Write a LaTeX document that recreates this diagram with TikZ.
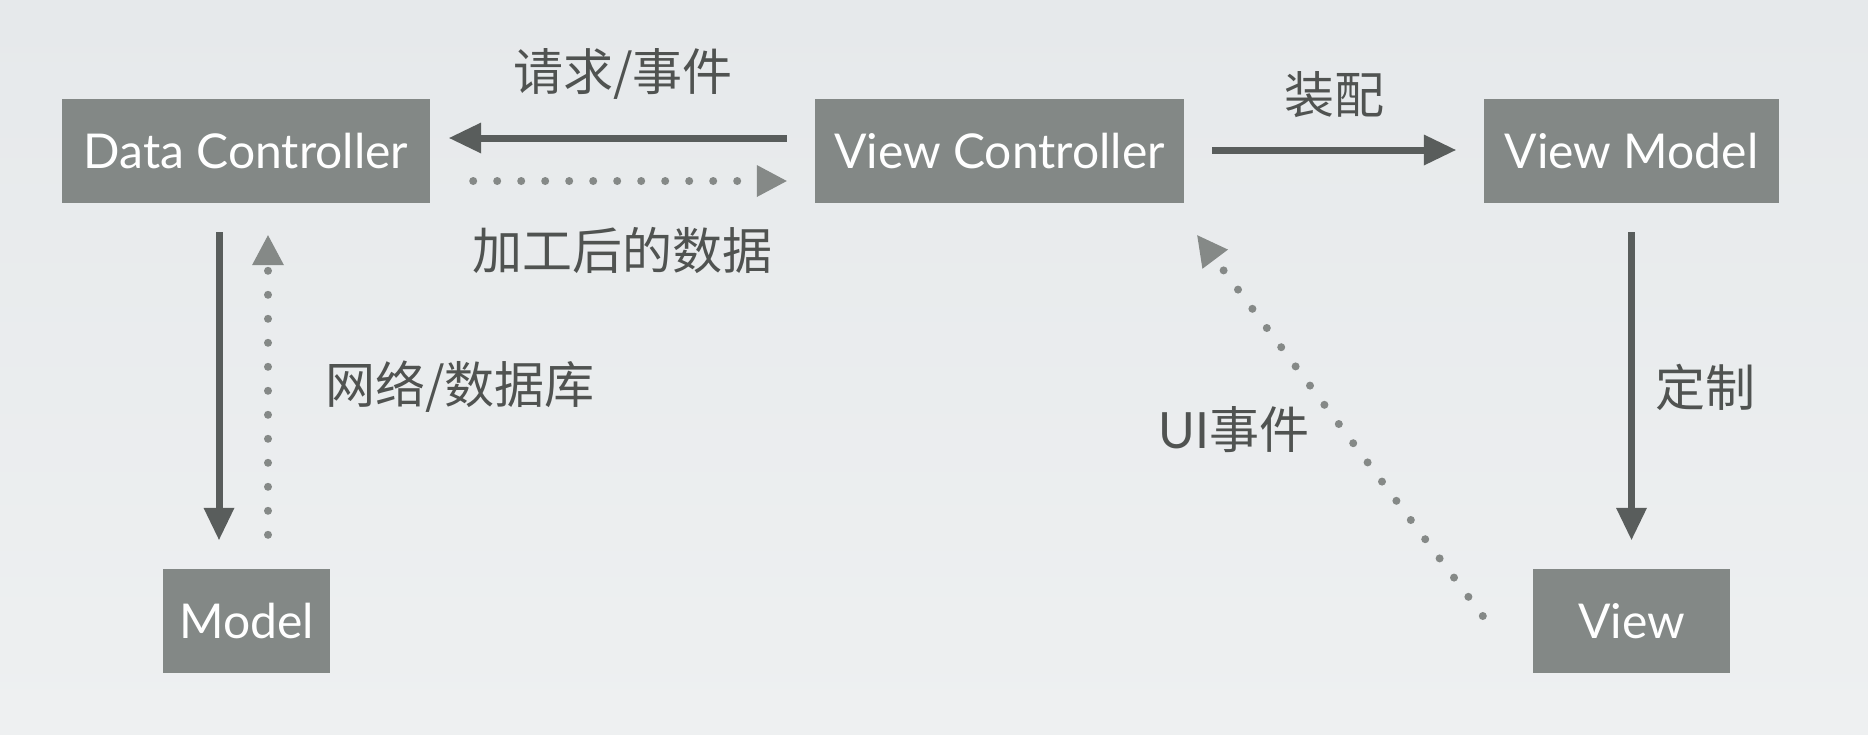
\documentclass[tikz,border=0pt]{standalone}
\usepackage{fontspec}
\setmainfont{Lato}
\newfontfamily\cjk{Noto Sans CJK SC}
\newfontfamily\latinf{Lato}
\usetikzlibrary{arrows.meta,calc}
\definecolor{boxgray}{HTML}{838886}
\definecolor{darkarrow}{HTML}{595D5C}
\definecolor{dotgray}{HTML}{858987}
\definecolor{labelgray}{HTML}{505351}
\definecolor{bgtop}{HTML}{E6E9EB}
\definecolor{bgbot}{HTML}{EEF0F1}
\begin{document}
\begin{tikzpicture}[x=1pt,y=-1pt,
  box/.style={fill=boxgray,text=white,inner sep=0pt,minimum height=104pt,
    font=\latinf\fontsize{48}{56}\selectfont},
  lbl/.style={text=labelgray,inner sep=0pt,font=\cjk\fontsize{50}{58}\selectfont},
  solidarrow/.style={draw=darkarrow,line width=7pt,
    -{Triangle[length=32pt,width=31pt,line width=0pt]}},
  dotarrow/.style={draw=dotgray,line width=8pt,line cap=round,
    dash pattern=on 0pt off 24pt,
    -{Triangle[length=30pt,width=32pt,line width=0pt]}}]
  \shade[top color=bgtop,bottom color=bgbot] (0,0) rectangle (1868,734);
  \useasboundingbox (0,0) rectangle (1868,734);

  \node[box,minimum width=368pt] (dc) at (246,151) {Data Controller};
  \node[box,minimum width=369pt] (vc) at (999.5,151) {View Controller};
  \node[box,minimum width=295pt] (vm) at (1631.5,151) {View Model};
  \node[box,minimum width=167pt] (model) at (246.5,621) {Model};
  \node[box,minimum width=197pt] (view) at (1631.5,621) {View};

  \node[lbl] (l1) at (623,74) {请求/事件};
  \node[lbl] (l2) at (622,250) {加工后的数据};
  \node[lbl] (l3) at (1334,95) {装配};
  \node[lbl] (l4) at (460,387) {网络/数据库};
  \node[lbl] (l5) at (1705,387) {定制};
  \node[lbl] (l6) at (1234,430) {{\latinf UI}事件};

  \draw[solidarrow] ($(vc.west)+(-28,-13)$) -- ($(dc.east)+(19,-13)$);
  \draw[dotarrow] ($(dc.east)+(43,30)$) -- ($(vc.west)+(-28,30)$);
  \draw[solidarrow] ($(vc.east)+(28,-1)$) -- ($(vm.west)+(-28,-1)$);
  \draw[solidarrow] ($(dc.south)+(-27,29)$) -- ($(model.north)+(-27.5,-29)$);
  \draw[dotarrow] ($(model.north)+(21.5,-34)$) -- ($(dc.south)+(22,32)$);
  \draw[solidarrow] ($(vm.south)+(0,29)$) -- ($(view.north)+(0,-29)$);
  \draw[dotarrow] ($(view.west)+(-50,-5)$) -- ($(vc.south east)+(13,32)$);
\end{tikzpicture}
\end{document}
